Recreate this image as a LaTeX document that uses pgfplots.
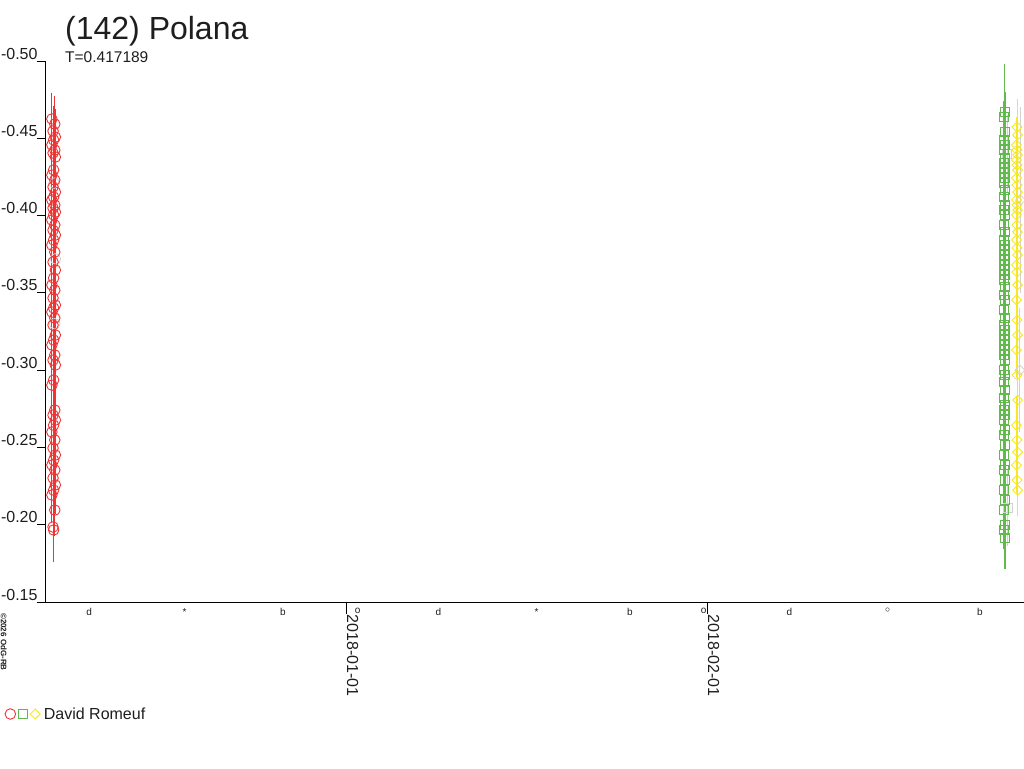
\documentclass[border=0pt]{standalone}
\usepackage{fontspec}
\setmainfont{Liberation Sans}
\usepackage{pgfplots}
\usepackage{pgfplotstable}
\pgfplotsset{compat=1.18}

\definecolor{pred}{RGB}{238,52,52}
\definecolor{pgreen}{RGB}{98,186,78}
\definecolor{pyellow}{RGB}{246,232,38}
\definecolor{pgrey}{RGB}{210,210,210}
\definecolor{txt}{RGB}{30,30,30}

% days from 2018-01-01, relative magnitude, error
\pgfplotstableread{
x y e
-25.25 -0.4625 0.017
-25.00 -0.4592 0.018
-25.15 -0.4547 0.016
-24.95 -0.4508 0.018
-25.10 -0.4489 0.017
-25.25 -0.4457 0.019
-25.00 -0.4424 0.018
-25.15 -0.4405 0.017
-24.95 -0.4379 0.018
-25.10 -0.4295 0.016
-25.25 -0.4262 0.018
-25.00 -0.4230 0.019
-25.15 -0.4185 0.017
-24.95 -0.4152 0.018
-25.10 -0.4120 0.018
-25.25 -0.4101 0.017
-25.00 -0.4068 0.019
-25.15 -0.4049 0.018
-24.95 -0.4023 0.017
-25.10 -0.4004 0.018
-25.25 -0.3971 0.018
-25.00 -0.3939 0.019
-25.15 -0.3906 0.017
-24.95 -0.3874 0.018
-25.10 -0.3842 0.018
-25.25 -0.3809 0.017
-25.00 -0.3764 0.019
-25.15 -0.3699 0.018
-24.95 -0.3648 0.018
-25.10 -0.3596 0.017
-25.25 -0.3551 0.019
-25.00 -0.3518 0.018
-25.15 -0.3467 0.018
-24.95 -0.3421 0.017
-25.10 -0.3402 0.019
-25.25 -0.3376 0.018
-25.00 -0.3337 0.018
-25.15 -0.3292 0.017
-24.95 -0.3227 0.019
-25.10 -0.3195 0.018
-25.25 -0.3163 0.018
-25.00 -0.3098 0.017
-25.15 -0.3065 0.019
-24.95 -0.3033 0.018
-25.10 -0.2936 0.018
-25.25 -0.2903 0.017
-25.00 -0.2742 0.019
-25.15 -0.2709 0.018
-24.95 -0.2677 0.018
-25.10 -0.2644 0.017
-25.25 -0.2600 0.019
-25.00 -0.2548 0.018
-25.15 -0.2496 0.018
-24.95 -0.2451 0.017
-25.10 -0.2418 0.019
-25.25 -0.2386 0.018
-25.00 -0.2354 0.018
-25.15 -0.2302 0.017
-24.95 -0.2257 0.019
-25.10 -0.2224 0.018
-25.25 -0.2192 0.018
-25.00 -0.2095 0.017
-25.15 -0.1985 0.020
-25.10 -0.1966 0.021
}\redtab

\pgfplotstableread{
x y e
56.55 -0.4670 0.030
56.50 -0.4638 0.034
56.60 -0.4541 0.026
56.45 -0.4489 0.025
56.55 -0.4457 0.026
56.50 -0.4424 0.025
56.60 -0.4372 0.026
56.45 -0.4340 0.025
56.55 -0.4308 0.026
56.50 -0.4275 0.025
56.60 -0.4243 0.026
56.45 -0.4211 0.025
56.55 -0.4165 0.026
56.50 -0.4120 0.025
56.60 -0.4068 0.026
56.45 -0.4036 0.025
56.55 -0.4004 0.026
56.50 -0.3939 0.025
56.60 -0.3894 0.026
56.45 -0.3842 0.025
56.55 -0.3809 0.026
56.50 -0.3777 0.025
56.60 -0.3745 0.026
56.45 -0.3712 0.025
56.55 -0.3680 0.026
56.50 -0.3648 0.025
56.60 -0.3615 0.026
56.45 -0.3583 0.025
56.55 -0.3538 0.026
56.50 -0.3486 0.025
56.60 -0.3454 0.026
56.45 -0.3389 0.025
56.55 -0.3337 0.026
56.50 -0.3292 0.025
56.60 -0.3260 0.026
56.45 -0.3227 0.025
56.55 -0.3195 0.026
56.50 -0.3163 0.025
56.60 -0.3130 0.026
56.45 -0.3098 0.025
56.55 -0.3065 0.026
56.50 -0.3001 0.025
56.60 -0.2968 0.026
56.45 -0.2923 0.025
56.55 -0.2871 0.026
56.50 -0.2820 0.025
56.60 -0.2774 0.026
56.45 -0.2742 0.025
56.55 -0.2709 0.026
56.50 -0.2677 0.025
56.60 -0.2613 0.026
56.45 -0.2580 0.025
56.55 -0.2516 0.026
56.50 -0.2451 0.025
56.60 -0.2386 0.026
56.45 -0.2354 0.025
56.55 -0.2289 0.026
56.50 -0.2224 0.025
56.60 -0.2160 0.026
56.45 -0.2095 0.025
56.55 -0.1997 0.026
56.50 -0.1966 0.025
56.60 -0.1914 0.020
}\greentab

\pgfplotstableread{
x y e
57.60 -0.4573 0.018
57.65 -0.4521 0.020
57.55 -0.4457 0.018
57.60 -0.4424 0.019
57.65 -0.4392 0.018
57.55 -0.4359 0.019
57.60 -0.4327 0.018
57.65 -0.4295 0.019
57.55 -0.4243 0.018
57.60 -0.4198 0.019
57.65 -0.4152 0.018
57.55 -0.4101 0.019
57.60 -0.4068 0.018
57.65 -0.4036 0.019
57.55 -0.4004 0.018
57.60 -0.3939 0.019
57.65 -0.3894 0.018
57.55 -0.3842 0.019
57.60 -0.3790 0.018
57.65 -0.3745 0.019
57.55 -0.3680 0.018
57.60 -0.3635 0.019
57.65 -0.3551 0.018
57.55 -0.3454 0.019
57.60 -0.3324 0.018
57.65 -0.3227 0.019
57.55 -0.3130 0.018
57.60 -0.2968 0.019
57.65 -0.2807 0.018
57.55 -0.2644 0.019
57.60 -0.2548 0.018
57.65 -0.2470 0.019
57.55 -0.2386 0.018
57.60 -0.2289 0.019
57.65 -0.2224 0.017
}\yellowtab

\pgfplotstableread{
x y e
-25.05 -0.4210 0.018
-24.95 -0.3720 0.018
-25.00 -0.3300 0.018
}\greyredtab

\pgfplotstableread{
x y e
56.80 -0.2110 0.025
56.75 -0.4400 0.025
}\greygreentab

\pgfplotstableread{
x y e
57.90 -0.4100 0.060
57.85 -0.3000 0.040
}\greyyellowtab

\begin{document}
\begin{tikzpicture}[x=1pt,y=1pt]
\useasboundingbox (0,0) rectangle (1024,768);
\begin{axis}[
    at={(45pt,166pt)}, anchor=south west,
    scale only axis, width=979pt, height=541pt,
    xmin=-25.84, xmax=58.2,
    ymin=-0.50, ymax=-0.15, y dir=reverse,
    axis x line=bottom, axis y line=left,
    axis line style={-, black, line width=1pt},
    tick align=outside,
    ytick={-0.50,-0.45,-0.40,-0.35,-0.30,-0.25,-0.20,-0.15},
    yticklabels={-0.50,-0.45,-0.40,-0.35,-0.30,-0.25,-0.20,-0.15},
    ytick style={black, line width=1pt, /pgfplots/major tick length=8pt},
    yticklabel style={anchor=base east, inner sep=0pt, xshift=-3pt, yshift=2pt,
        font=\fontsize{16}{16}\selectfont, text=txt},
    xtick={0,31},
    xticklabels={2018-01-01,2018-02-01},
    xtick style={black, line width=1pt, /pgfplots/major tick length=12pt},
    xticklabel style={yshift=-8pt, xshift=1pt, rotate=-90, anchor=base west,
        inner sep=0pt, font=\fontsize{16}{16}\selectfont, text=txt},
    extra x ticks={-22.04,-13.86,-5.42,1.0,7.92,16.36,24.37,30.7,38.06,46.50,54.42},
    extra x tick labels={d,*,b,o,d,*,b,o,d,$\circ$,b},
    extra x tick style={tick style={opacity=0},
        xticklabel style={rotate=90, yshift=6pt, xshift=-1pt, anchor=north,
        inner sep=0pt, font=\fontsize{10}{10}\selectfont, text=txt}},
    clip=false,
    legend style={at={(axis description cs:-0.0414,-0.207)}, anchor=west,
        draw=none, fill=none, inner sep=0pt, column sep=0pt,
        legend columns=-1, nodes={inner sep=0pt},
        font=\fontsize{16}{16}\selectfont, text=txt},
    legend image code/.code={
        \path (-5.5pt,0pt) (5.5pt,0pt);
        \draw[#1] plot[only marks] coordinates {(0pt,0pt)};},
    error bars/error bar style={line width=0.9pt},
]
% faint secondary points
\addplot[forget plot, only marks, mark=o, mark size=5.3pt, pgrey,
    mark options={line width=0.8pt},
    error bars/.cd, y dir=both, y explicit, error mark=none]
    table[x=x, y=y, y error=e] {\greyredtab};
\addplot[forget plot, only marks, mark=square, mark size=4.5pt, pgrey,
    mark options={line width=0.8pt},
    error bars/.cd, y dir=both, y explicit, error mark=none]
    table[x=x, y=y, y error=e] {\greygreentab};
\addplot[forget plot, only marks, mark=square, mark size=3.5pt, pgrey,
    mark options={line width=0.8pt, rotate=45},
    error bars/.cd, y dir=both, y explicit, error mark=none]
    table[x=x, y=y, y error=e] {\greyyellowtab};

\addplot[only marks, mark=o, mark size=5.3pt, pred,
    mark options={line width=0.9pt},
    error bars/.cd, y dir=both, y explicit, error mark=none]
    table[x=x, y=y, y error=e] {\redtab};
\addlegendentry{\mbox{}}
\addplot[only marks, mark=square, mark size=4.5pt, pgreen,
    mark options={line width=0.9pt},
    error bars/.cd, y dir=both, y explicit, error mark=none]
    table[x=x, y=y, y error=e] {\greentab};
\addlegendentry{\mbox{}}
\addplot[only marks, mark=square, mark size=3.5pt, pyellow,
    mark options={line width=0.9pt, rotate=45},
    error bars/.cd, y dir=both, y explicit, error mark=none]
    table[x=x, y=y, y error=e] {\yellowtab};
\addlegendentry{\hspace{3pt}David Romeuf}
\end{axis}
\node[anchor=base west, inner sep=0pt, text=txt, font=\fontsize{32}{32}\selectfont]
    at (65,728.5) {(142) Polana};
\node[anchor=base west, inner sep=0pt, text=txt, font=\fontsize{15.5}{15.5}\selectfont]
    at (65,705) {T=0.417189};
\node[anchor=base west, inner sep=0pt, rotate=-90, text=txt,
    font=\fontsize{8}{8}\selectfont\bfseries]
    at (1,155) {\textcopyright2026 OdG-RB};
\end{tikzpicture}
\end{document}
